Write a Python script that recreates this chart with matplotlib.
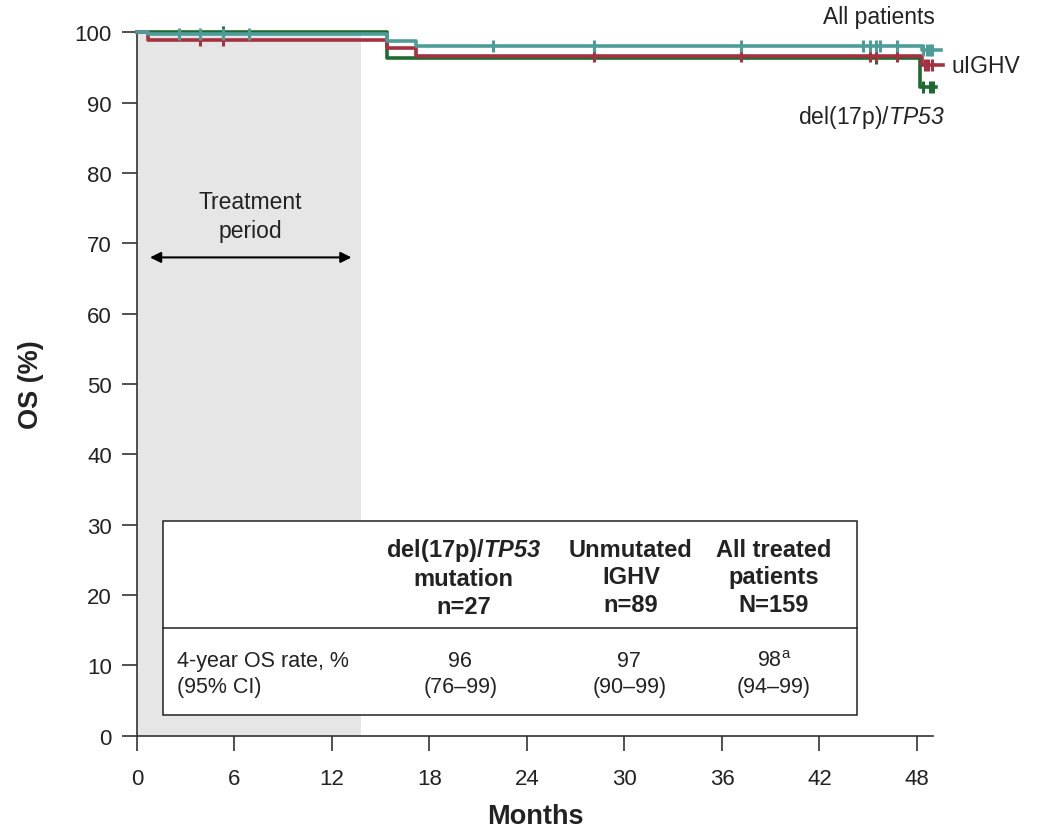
import matplotlib
matplotlib.use("Agg")
import matplotlib.pyplot as plt
from matplotlib.patches import Rectangle
import numpy as np

plt.rcParams['font.family'] = ['Liberation Sans', 'DejaVu Sans']
plt.rcParams['mathtext.fontset'] = 'custom'
plt.rcParams['mathtext.rm'] = 'Liberation Sans'
plt.rcParams['mathtext.it'] = 'Liberation Sans:italic'
plt.rcParams['mathtext.sf'] = 'Liberation Sans:italic'
plt.rcParams['mathtext.bf'] = 'Liberation Sans:bold'
plt.rcParams['mathtext.bfit'] = 'Liberation Sans:bold:italic'

# KM step data (months, OS %)
all_t = [0, 0.7, 15.4, 17.2, 48.3]
all_s = [100, 99.7, 98.7, 98.1, 97.5]
all_end = 49.5
all_cens = [2.6, 3.9, 5.3, 6.9, 21.9, 28.1, 37.2, 44.7, 45.1, 45.5, 45.7, 46.8,
            48.4, 48.6, 48.8, 48.9]

ighv_t = [0, 0.7, 15.4, 17.2, 48.3]
ighv_s = [100, 98.9, 97.8, 96.6, 95.4]
ighv_end = 49.6
ighv_cens = [3.9, 5.3, 28.1, 37.2, 45.1, 45.5, 46.8, 48.5, 48.7, 48.9]

tp53_t = [0, 15.4, 48.2]
tp53_s = [100, 96.3, 92.2]
tp53_end = 49.2
tp53_cens = [5.3, 45.5, 48.4, 48.8, 49.0]

col_heads = ["del(17p)/$\\mathbfit{TP53}$\nmutation\nn=27",
             "Unmutated\nIGHV\nn=89",
             "All treated\npatients\nN=159"]
row_label = "4-year OS rate, %\n(95% CI)"
rates = ["96", "97", "98$^{\\mathrm{a}}$"]
cis = ["(76\u201399)", "(90\u201399)", "(94\u201399)"]

teal = "#4e9c98"
red = "#a4313f"
green = "#1f6a31"

fig = plt.figure(figsize=(10.48, 8.29), dpi=100)
ax = fig.add_axes([0.1307, 0.1113, 0.7598, 0.8485])

ax.add_patch(Rectangle((0, 0), 13.8, 100, facecolor="#e6e6e6", edgecolor="none", zorder=0))


def km(t, s, end, cens, color, z):
    tt = list(t) + [end]
    ss = list(s) + [s[-1]]
    ax.step(tt, ss, where="post", color=color, lw=2.6, clip_on=False, zorder=z)
    idx = np.searchsorted(t, cens, side="right") - 1
    cy = np.array(s)[idx]
    ax.plot(cens, cy, ls="none", marker="|", ms=9, mew=2.2, color=color,
            clip_on=False, zorder=z)


km(tp53_t, tp53_s, tp53_end, tp53_cens, green, 3)
km(ighv_t, ighv_s, ighv_end, ighv_cens, red, 4)
km(all_t, all_s, all_end, all_cens, teal, 5)

ax.text(49.1, 102.3, "All patients", ha="right", va="center", fontsize=16.5, color="#222", clip_on=False)
ax.text(50.1, 95.3, "uIGHV", ha="left", va="center", fontsize=16.5, color="#222", clip_on=False)
ax.text(49.7, 88.0, "del(17p)/$\\mathsf{TP53}$", ha="right", va="center", fontsize=16.5, color="#222", clip_on=False)

# treatment period
ax.annotate("", xy=(0.8, 68.0), xytext=(13.2, 68.0),
            arrowprops=dict(arrowstyle="<|-|>", color="black", lw=1.5,
                            shrinkA=0, shrinkB=0, mutation_scale=16))
ax.text(7.0, 73.9, "Treatment\nperiod", ha="center", va="center", fontsize=16.5,
        color="#222", linespacing=1.3)

# inset table
ax.add_patch(Rectangle((1.6, 2.95), 42.7, 27.55, facecolor="white", edgecolor="#222",
                       lw=1.1, zorder=6))
ax.plot([1.6, 44.3], [15.3, 15.3], color="#222", lw=1.1, zorder=7)
head_x = [20.1, 30.4, 39.2]
col_x = [19.9, 30.3, 39.2]
for hx, x, head, r, ci in zip(head_x, col_x, col_heads, rates, cis):
    ax.text(hx, 22.6, head, ha="center", va="center", fontsize=17, fontweight="bold",
            color="#222", linespacing=1.25, zorder=8)
    ax.text(x, 8.9, r + "\n" + ci, ha="center", va="center", fontsize=15.5,
            color="#222", linespacing=1.3, zorder=8)
ax.text(2.45, 8.9, row_label, ha="left", va="center", fontsize=15.5, color="#222",
        linespacing=1.3, zorder=8)

ax.set_xlim(0, 49)
ax.set_ylim(0, 100)
ax.set_xticks(np.arange(0, 49, 6))
ax.set_yticks(np.arange(0, 101, 10))
ax.spines["top"].set_visible(False)
ax.spines["right"].set_visible(False)
for sp in ["left", "bottom"]:
    ax.spines[sp].set_color("#333")
    ax.spines[sp].set_linewidth(1.2)
ax.tick_params(axis="x", length=11, width=1.2, color="#333", labelsize=16, pad=12, labelcolor="#222")
ax.tick_params(axis="y", length=11, width=1.2, color="#333", labelsize=16, pad=7, labelcolor="#222")
ax.set_xlabel("Months", fontsize=19.5, fontweight="bold", color="#222", labelpad=10)
ax.set_ylabel("OS (%)", fontsize=19.5, fontweight="bold", color="#222", labelpad=22)

fig.savefig("out.png", dpi=100)
